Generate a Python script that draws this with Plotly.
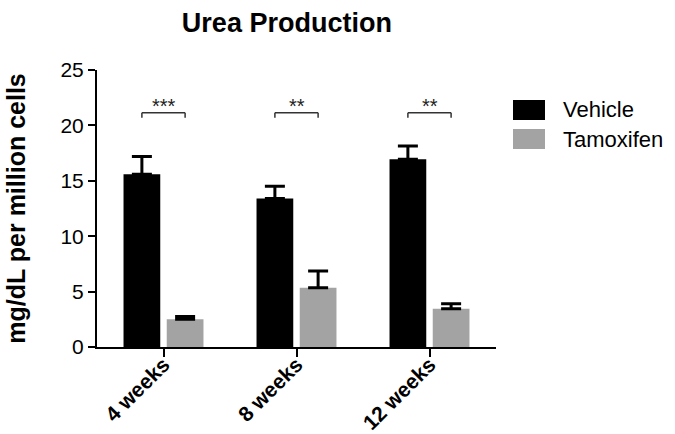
import plotly.graph_objects as go

categories = ["4 weeks", "8 weeks", "12 weeks"]
vehicle = [15.6, 13.4, 16.95]
vehicle_err = [1.6, 1.1, 1.2]
tamoxifen = [2.5, 5.35, 3.45]
tamoxifen_err = [0.25, 1.5, 0.45]
significance = ["***", "**", "**"]
bracket_y = 21.15
y_ticks = [0, 5, 10, 15, 20, 25]

FONT = "Liberation Sans, Arial, sans-serif"
BLACK = "#000000"
GRAY = "#a3a3a3"

xs = list(range(len(categories)))

fig = go.Figure()
fig.add_trace(go.Bar(
    x=xs, y=vehicle, name="Vehicle", marker=dict(color=BLACK, line=dict(width=0)),
    error_y=dict(type="data", array=vehicle_err, arrayminus=[0] * len(vehicle),
                 symmetric=False, color=BLACK, thickness=3, width=10),
    showlegend=False,
))
fig.add_trace(go.Bar(
    x=xs, y=tamoxifen, name="Tamoxifen", marker=dict(color=GRAY, line=dict(width=0)),
    error_y=dict(type="data", array=tamoxifen_err, arrayminus=[0] * len(tamoxifen),
                 symmetric=False, color=BLACK, thickness=3, width=10),
    showlegend=False,
))

bargap = 0.35
half = (1 - bargap) / 4  # center offset of each bar in the group
shapes = []
annotations = []
for i, s in enumerate(significance):
    x0, x1 = i - half, i + half
    shapes.append(dict(type="line", xref="x", yref="y", x0=x0, x1=x1, y0=bracket_y, y1=bracket_y,
                       line=dict(color="#333333", width=1.5)))
    for xx in (x0, x1):
        shapes.append(dict(type="line", xref="x", yref="y", x0=xx, x1=xx, y0=bracket_y, y1=bracket_y - 0.45,
                           line=dict(color="#333333", width=1.5)))
    annotations.append(dict(x=i, y=bracket_y, xref="x", yref="y", text=s, showarrow=False,
                            yanchor="bottom", yshift=-6, font=dict(family=FONT, size=20, color="#222222")))

# manual legend (large swatches)
legend_items = [("Vehicle", BLACK, 0.8917, 0.8195, 0.8556), ("Tamoxifen", GRAY, 0.7870, 0.7148, 0.7473)]
for label, col, ytop, ybot, ytxt in legend_items:
    shapes.append(dict(type="rect", xref="paper", yref="paper", x0=1.0426, x1=1.1228, y0=ybot, y1=ytop,
                       fillcolor=col, line=dict(width=0)))
    annotations.append(dict(x=1.163, y=ytxt, xref="paper", yref="paper", text=label, showarrow=False,
                            xanchor="left", yanchor="middle", font=dict(family=FONT, size=22, color="#000000")))

# y axis title
annotations.append(dict(x=-0.205, y=0.5, xref="paper", yref="paper", text="<b>mg/dL per million cells</b>",
                        showarrow=False, textangle=-90, xanchor="center", yanchor="middle",
                        font=dict(family=FONT, size=25, color="#000000")))

fig.update_layout(
    width=675, height=434,
    margin=dict(l=97, r=179, t=70, b=87, autoexpand=False),
    paper_bgcolor="white", plot_bgcolor="white",
    barmode="group", bargap=bargap, bargroupgap=0.15,
    title=dict(text="<b>Urea Production</b>", x=0.425, xanchor="center", y=0.947, yanchor="middle",
               xref="container", yref="container", font=dict(family=FONT, size=27, color="#000000")),
    shapes=shapes, annotations=annotations,
    xaxis=dict(range=[-0.5, 2.5], tickvals=xs, ticktext=["<b>%s</b>" % c for c in categories],
               tickangle=-45, showline=True, linecolor=BLACK, linewidth=2, ticks="outside",
               ticklen=8, tickwidth=2, tickcolor=BLACK, showgrid=False, zeroline=False, automargin=False,
               ticklabelstandoff=-13,
               tickfont=dict(family=FONT, size=21, color="#000000")),
    yaxis=dict(range=[0, 25], tickvals=y_ticks, showline=True, linecolor=BLACK, linewidth=2,
               ticks="outside", ticklen=7, tickwidth=2, tickcolor=BLACK, showgrid=False, zeroline=False,
               automargin=False, tickfont=dict(family=FONT, size=21, color="#000000")),
)

fig.write_html("out.html", config={"displayModeBar": False},
               post_script="document.body.style.margin='0';document.body.style.overflow='hidden';")
